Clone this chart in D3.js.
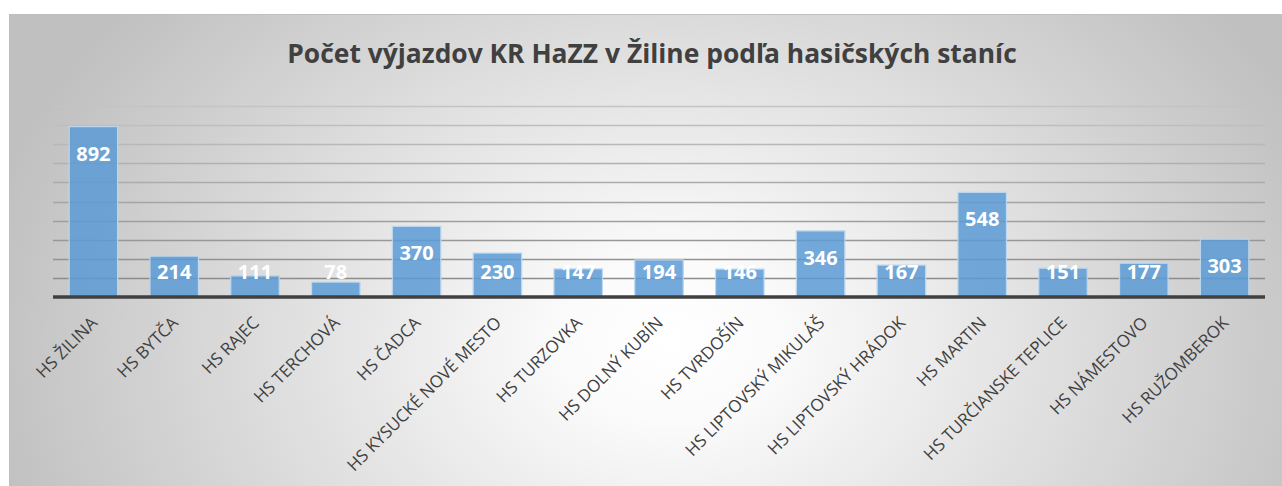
<!DOCTYPE html>
<html>
<head>
<meta charset="utf-8">
<script src="https://cdn.jsdelivr.net/npm/d3@7"></script>
<style>
  html, body { margin: 0; padding: 0; background: #fff; }
  svg { display: block; }
</style>
</head>
<body>
<svg></svg>
<script>
// Data: number of call-outs per fire station
const stations = ["HS ŽILINA", "HS BYTČA", "HS RAJEC", "HS TERCHOVÁ", "HS ČADCA", "HS KYSUCKÉ NOVÉ MESTO",
    "HS TURZOVKA", "HS DOLNÝ KUBÍN", "HS TVRDOŠÍN", "HS LIPTOVSKÝ MIKULÁŠ", "HS LIPTOVSKÝ HRÁDOK",
    "HS MARTIN", "HS TURČIANSKE TEPLICE", "HS NÁMESTOVO", "HS RUŽOMBEROK"];
const counts = [892, 214, 111, 78, 370, 230, 147, 194, 146, 346, 167, 548, 151, 177, 303];
const gridTicks = [100, 200, 300, 400, 500, 600, 700, 800, 900, 1000];
const title = "Počet výjazdov KR HaZZ v Žiline podľa hasičských staníc";

const W = 1282, H = 486;
const svg = d3.select("svg").attr("width", W).attr("height", H);

// Background: radial gradient like the Excel chart style
const defs = svg.append("defs");
const grad = defs.append("radialGradient").attr("id", "bg")
    .attr("gradientUnits", "userSpaceOnUse")
    .attr("cx", 670).attr("cy", 340).attr("r", 700)
    .attr("gradientTransform", "translate(670,340) scale(1,0.75) translate(-670,-340)");
grad.append("stop").attr("offset", "0%").attr("stop-color", "#ffffff");
grad.append("stop").attr("offset", "15%").attr("stop-color", "#fbfbfb");
grad.append("stop").attr("offset", "100%").attr("stop-color", "#c0c0c0");

svg.append("rect").attr("x", 9.5).attr("y", 14.5).attr("width", W + 10).attr("height", H + 10)
    .attr("fill", "url(#bg)").attr("stroke", "#bfbfbf").attr("stroke-width", 1);

const margin = { left: 53, right: 17, axis: 297 };
const x = d3.scaleBand().domain(stations).range([margin.left, W - margin.right]).paddingInner(0.4).paddingOuter(0.2);
const y = d3.scaleLinear().domain([0, 1000]).range([margin.axis, 106]);

// Gridlines: lighter towards the top
const gridColor = d3.scaleLinear().domain([100, 1000]).range(["#8c8c8c", "#c4c4c4"]);
svg.append("g").selectAll("line").data(gridTicks).enter().append("line")
    .attr("x1", margin.left).attr("x2", W - margin.right)
    .attr("y1", d => Math.round(y(d)) + 0.5).attr("y2", d => Math.round(y(d)) + 0.5)
    .attr("stroke", d => gridColor(d)).attr("stroke-width", 1.5);

// Bars
svg.append("g").selectAll("rect").data(counts).enter().append("rect")
    .attr("x", (d, i) => x(stations[i]))
    .attr("y", d => y(d))
    .attr("width", x.bandwidth())
    .attr("height", d => y(0) - y(d))
    .attr("fill", "#5b9bd5").attr("fill-opacity", 0.85)
    .attr("stroke", "#bdd7ee").attr("stroke-width", 1.2);

// Axis line
svg.append("line").attr("x1", margin.left).attr("x2", W - margin.right)
    .attr("y1", y(0)).attr("y2", y(0))
    .attr("stroke", "#404040").attr("stroke-width", 3.5);

// Value labels (inside end, clamped above the base)
svg.append("g").selectAll("text").data(counts).enter().append("text")
    .attr("x", (d, i) => x(stations[i]) + x.bandwidth() / 2)
    .attr("y", d => Math.min(y(d) + 34, y(0) - 18))
    .attr("text-anchor", "middle")
    .attr("font-family", "'Open Sans', sans-serif").attr("font-weight", "bold")
    .attr("font-size", 20).attr("fill", "#ffffff")
    .text(d => d);

// Category labels rotated -45
svg.append("g").selectAll("text").data(stations).enter().append("text")
    .attr("transform", d => `translate(${x(d) + x.bandwidth() / 2 + 5},${y(0) + 27}) rotate(-45)`)
    .attr("text-anchor", "end")
    .attr("font-family", "'Open Sans', sans-serif")
    .attr("font-size", 17).attr("fill", "#404040")
    .text(d => d);

// Title
const t = svg.append("text").attr("x", 652).attr("y", 63).attr("text-anchor", "middle")
    .attr("font-family", "'Open Sans', sans-serif").attr("font-weight", "bold")
    .attr("font-size", 30).attr("fill", "#404040").text(title);
const tw = t.node().getComputedTextLength();
t.attr("font-size", 30 * 730 / tw);
</script>
</body>
</html>
